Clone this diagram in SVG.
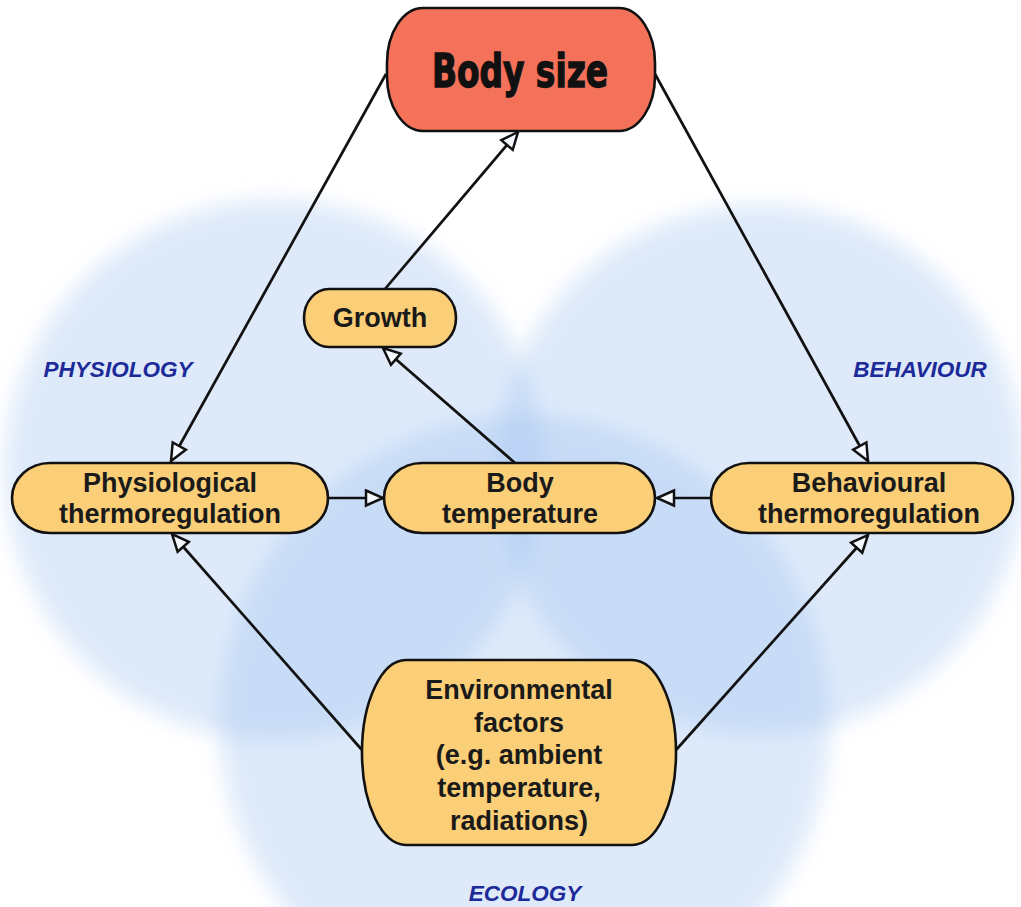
<svg xmlns="http://www.w3.org/2000/svg" width="1021" height="907" viewBox="0 0 1021 907">
<style>
.node{fill:#fbcf77;stroke:#111;stroke-width:2.6}
.top{fill:#f5725a;stroke:#111;stroke-width:2.6}
.t{font-family:"Liberation Sans",Arial,sans-serif;font-weight:bold;font-size:27px;fill:#1a1a1a;text-anchor:middle}
.lab{font-family:"Liberation Sans",Arial,sans-serif;font-weight:bold;font-style:italic;font-size:22.5px;fill:#1c2b99;text-anchor:middle}
.c{stroke:#111;stroke-width:2.7;fill:none;marker-end:url(#ah)}
.venn{fill:#a4c6f0;fill-opacity:0.36;filter:url(#blur)}
</style>
<defs>
<filter id="blur" x="-20%" y="-20%" width="140%" height="140%"><feGaussianBlur stdDeviation="10"/></filter>
<marker id="ah" markerUnits="userSpaceOnUse" markerWidth="22" markerHeight="20" refX="17" refY="7.5" orient="auto" viewBox="-2 -2 22 20">
<path d="M0,0 L17,7.5 L0,15 Z" fill="#f6f9ff" stroke="#111" stroke-width="2.5" stroke-linejoin="miter"/>
</marker>
</defs>
<rect width="1021" height="907" fill="#ffffff"/>
<g id="venn">
<circle class="venn" cx="275" cy="470" r="270"/>
<circle class="venn" cx="760" cy="470" r="265"/>
<circle class="venn" cx="525" cy="720" r="305"/>
</g>
<g id="labels">
<text class="lab" x="118" y="377">PHYSIOLOGY</text>
<text class="lab" x="920" y="377">BEHAVIOUR</text>
<text class="lab" x="525" y="901">ECOLOGY</text>
</g>
<g id="connectors">
<line class="c" x1="386" y1="74" x2="171" y2="461"/>
<line class="c" x1="655" y1="74" x2="868" y2="461"/>
<line class="c" x1="385" y1="289" x2="518" y2="132"/>
<line class="c" x1="515" y1="463" x2="383" y2="348"/>
<line class="c" x1="328" y1="498" x2="383" y2="498"/>
<line class="c" x1="711" y1="498" x2="657" y2="498"/>
<line class="c" x1="362" y1="750" x2="172" y2="534"/>
<line class="c" x1="676" y1="750" x2="868" y2="535"/>
</g>
<g id="body-size">
<rect class="top" x="387" y="8" width="268" height="123" rx="36" ry="55"/>
<text x="520" y="87" font-family="'DejaVu Sans Condensed','DejaVu Sans',sans-serif" font-weight="bold" font-size="46" fill="#111" stroke="#111" stroke-width="1.3" text-anchor="middle" textLength="176" lengthAdjust="spacingAndGlyphs">Body size</text>
</g>
<g id="growth">
<rect class="node" x="304" y="289" width="152" height="58" rx="25" ry="29"/>
<text class="t" x="380" y="327">Growth</text>
</g>
<g id="physiological-thermoregulation">
<rect class="node" x="12" y="463" width="316" height="70" rx="38" ry="35"/>
<text class="t" x="170" y="492">Physiological</text>
<text class="t" x="170" y="523">thermoregulation</text>
</g>
<g id="body-temperature">
<rect class="node" x="384" y="463" width="271" height="70" rx="38" ry="35"/>
<text class="t" x="520" y="492">Body</text>
<text class="t" x="520" y="523">temperature</text>
</g>
<g id="behavioural-thermoregulation">
<rect class="node" x="711" y="463" width="302" height="70" rx="38" ry="35"/>
<text class="t" x="869" y="492">Behavioural</text>
<text class="t" x="869" y="523">thermoregulation</text>
</g>
<g id="environmental-factors">
<rect class="node" x="362" y="660" width="314" height="185" rx="44" ry="92"/>
<text class="t" x="519" y="699">Environmental</text>
<text class="t" x="519" y="732">factors</text>
<text class="t" x="519" y="764">(e.g. ambient</text>
<text class="t" x="519" y="797">temperature,</text>
<text class="t" x="519" y="830">radiations)</text>
</g>
</svg>
